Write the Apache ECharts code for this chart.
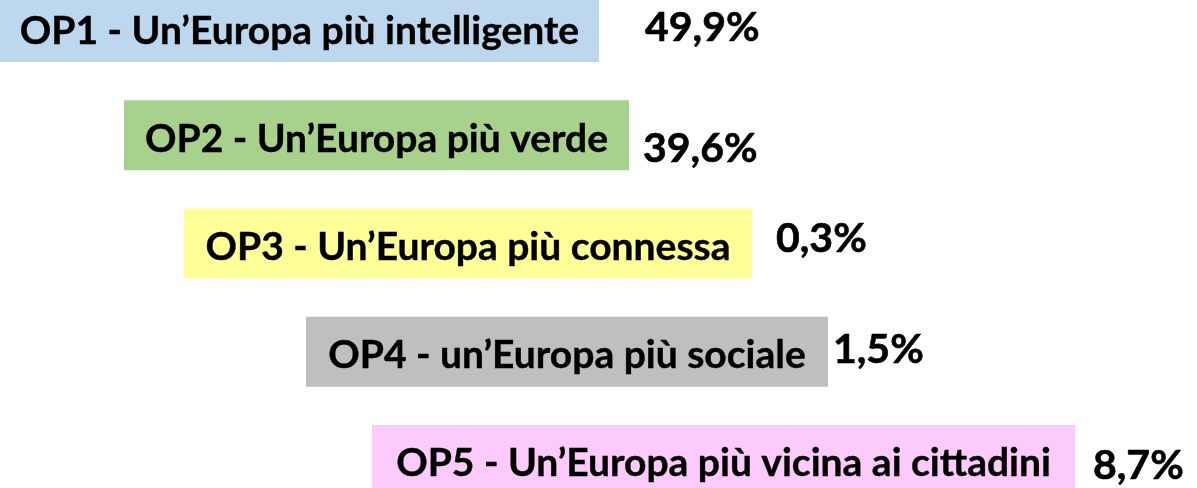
<!DOCTYPE html>
<html>
<head>
<meta charset="utf-8">
<script src="https://cdn.jsdelivr.net/npm/echarts@6/dist/echarts.min.js"></script>
<style>
  html, body { margin: 0; padding: 0; background: #fff; }
  #chart { width: 1197px; height: 488px; }
</style>
</head>
<body>
<div id="chart"></div>
<script>
// objectives, shares and the span of each label box (in px units of the x axis)
const categories = [
  'OP1 - Un’Europa più intelligente',
  'OP2 - Un’Europa più verde',
  'OP3 - Un’Europa più connessa',
  'OP4 - un’Europa più sociale',
  'OP5 - Un’Europa più vicina ai cittadini'
]
const shares = ['49,9%', '39,6%', '0,3%', '1,5%', '8,7%']
const boxStart = [0, 124, 184, 306, 372]
const boxEnd = [599, 629, 752, 828, 1075]

// layout only
const colors = ['#BDD7EE', '#A9D18E', '#FFFF99', '#BFBFBF', '#FCCBFC']
const pctGap = [46, 14, 24, 5, 18]
const pctDy = [1, 13, -5, -2, 6]
const font = 'Lato'

const chart = echarts.init(document.getElementById('chart'))

chart.setOption({
  animation: false,
  grid: {
    left: 0,
    right: 0,
    top: -27,
    bottom: -26,
    outerBoundsMode: 'none'
  },
  xAxis: { type: 'value', min: 0, max: 1197, show: false },
  yAxis: {
    type: 'category',
    data: categories,
    inverse: true,
    show: false
  },
  series: [
    {
      type: 'bar',
      stack: 'box',
      barWidth: 70,
      itemStyle: { color: 'transparent' },
      silent: true,
      data: boxStart
    },
    {
      type: 'bar',
      stack: 'box',
      barWidth: 70,
      data: boxEnd.map((e, i) => ({
        value: e - boxStart[i],
        itemStyle: { color: colors[i] },
        label: { distance: pctGap[i], offset: [0, pctDy[i]] }
      })),
      label: {
        show: true,
        position: 'right',
        formatter: p => shares[p.dataIndex],
        color: '#000',
        fontFamily: font,
        fontWeight: 'bold',
        fontSize: 41,
        textBorderColor: '#000',
        textBorderWidth: 0.6
      }
    },
    {
      // category names written inside the boxes
      type: 'bar',
      stack: 'text',
      barWidth: 70,
      barGap: '-100%',
      itemStyle: { color: 'transparent' },
      silent: true,
      data: boxStart
    },
    {
      type: 'bar',
      stack: 'text',
      barWidth: 70,
      itemStyle: { color: 'transparent' },
      data: boxEnd.map((e, i) => e - boxStart[i]),
      label: {
        show: true,
        position: 'inside',
        formatter: p => p.name,
        color: '#000',
        fontFamily: font,
        fontWeight: 'bold',
        fontSize: 39,
        offset: [0, 4],
        textBorderColor: '#000',
        textBorderWidth: 0.4
      }
    }
  ]
})
</script>
</body>
</html>
